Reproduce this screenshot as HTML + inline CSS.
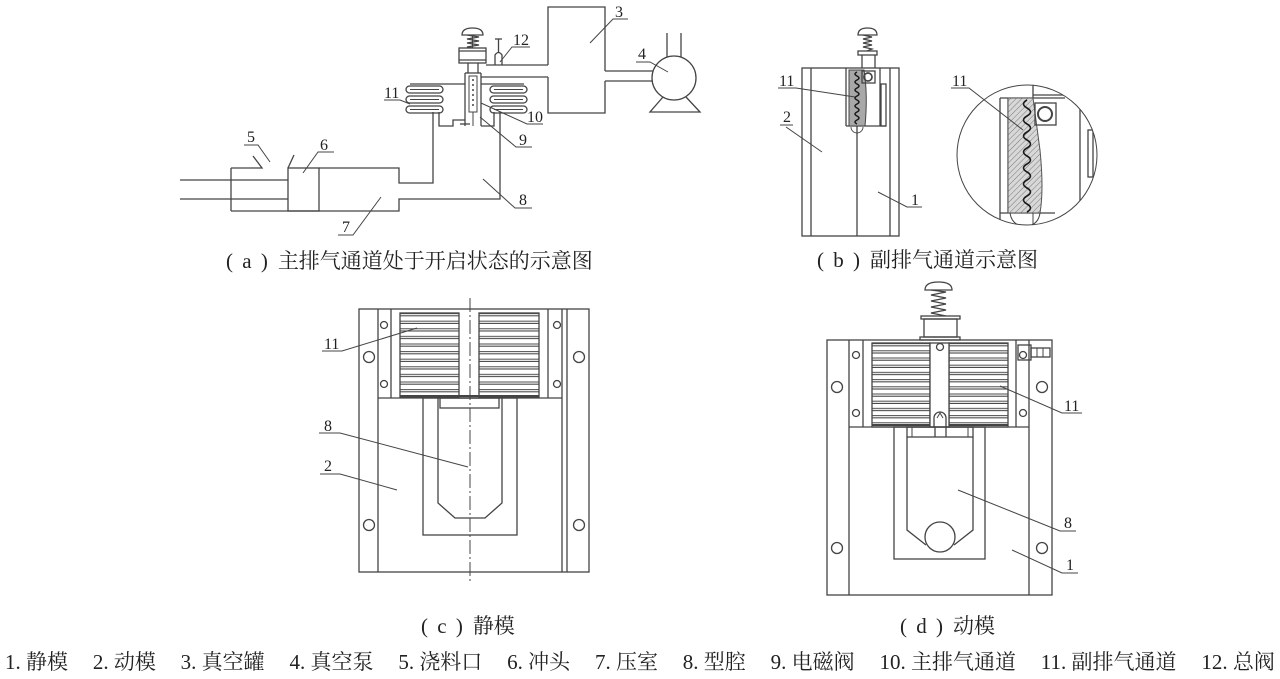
<!DOCTYPE html>
<html><head><meta charset="utf-8">
<style>
html,body{margin:0;padding:0;background:#fff;}
body{width:1280px;height:679px;position:relative;overflow:hidden;}
svg{position:absolute;left:0;top:0;}
.cap{position:absolute;font-family:"Liberation Serif","Noto Serif CJK SC",serif;font-size:21px;color:#222;white-space:nowrap;line-height:1;}
.cap .p{letter-spacing:2px;margin-right:8px;}
.legend{position:absolute;left:5px;width:1270px;top:652px;display:flex;justify-content:space-between;font-family:"Liberation Serif","Noto Serif CJK SC",serif;font-size:21px;color:#222;line-height:1;white-space:nowrap;}
</style></head><body>
<svg width="1280" height="679" viewBox="0 0 1280 679">
<defs>
<pattern id="stC" patternUnits="userSpaceOnUse" x="0" y="313" width="20" height="7.6">
<line x1="0" y1="0.6" x2="20" y2="0.6" stroke="#444" stroke-width="1"/>
<line x1="0" y1="2.8" x2="20" y2="2.8" stroke="#444" stroke-width="1"/>
</pattern>
<pattern id="stD" patternUnits="userSpaceOnUse" x="0" y="343" width="20" height="7.2">
<line x1="0" y1="0.6" x2="20" y2="0.6" stroke="#444" stroke-width="1"/>
<line x1="0" y1="2.8" x2="20" y2="2.8" stroke="#444" stroke-width="1"/>
</pattern>
<pattern id="hatch" patternUnits="userSpaceOnUse" width="4" height="4" patternTransform="rotate(45)">
<rect width="4" height="4" fill="#d8d8d8"/>
<line x1="0" y1="0" x2="0" y2="4" stroke="#777" stroke-width="1"/>
</pattern>
<clipPath id="detailClip"><circle cx="1027" cy="155" r="70"/></clipPath>
</defs>

<g fill="none" stroke="#444" stroke-width="1.3" stroke-linejoin="miter">
<!-- ===== (a) ===== -->
<line x1="180" y1="180" x2="288" y2="180"/>
<line x1="180" y1="199" x2="288" y2="199"/>
<line x1="231" y1="168" x2="231" y2="211"/>
<polyline points="231,168 262,168 253,156"/>
<polyline points="294,155 288,168"/>
<rect x="288" y="168" width="31" height="43"/>
<polyline points="319,168 399,168 399,183 433,183 433,112"/>
<polyline points="231,211 399,211 399,199 500,199 500,112"/>
<polyline points="439,112 439,126 453,126 453,120 465,120"/>
<polyline points="494,112 494,126 481,126"/>
<line x1="460" y1="124" x2="470" y2="124"/>
<!-- bellows -->
<line x1="410" y1="84" x2="465" y2="84"/>
<line x1="481" y1="84" x2="524" y2="84"/>
<rect x="406" y="86" width="37" height="7" rx="3.5"/>
<rect x="406" y="96" width="37" height="7" rx="3.5"/>
<rect x="406" y="106" width="37" height="7" rx="3.5"/>
<line x1="410" y1="89.5" x2="439" y2="89.5" stroke-width="0.9"/>
<line x1="410" y1="99.5" x2="439" y2="99.5" stroke-width="0.9"/>
<line x1="410" y1="109.5" x2="439" y2="109.5" stroke-width="0.9"/>
<rect x="490" y="86" width="37" height="7" rx="3.5"/>
<rect x="490" y="96" width="37" height="7" rx="3.5"/>
<rect x="490" y="106" width="37" height="7" rx="3.5"/>
<line x1="494" y1="89.5" x2="523" y2="89.5" stroke-width="0.9"/>
<line x1="494" y1="99.5" x2="523" y2="99.5" stroke-width="0.9"/>
<line x1="494" y1="109.5" x2="523" y2="109.5" stroke-width="0.9"/>
<!-- valve -->
<line x1="465" y1="73" x2="465" y2="126"/>
<line x1="481" y1="73" x2="481" y2="126"/>
<line x1="465" y1="73" x2="481" y2="73"/>
<line x1="468" y1="63" x2="468" y2="73"/>
<line x1="478" y1="63" x2="478" y2="73"/>
<rect x="469" y="76" width="8" height="36" stroke-width="1"/>
<g fill="#444" stroke="none">
<circle cx="473" cy="80" r="1"/><circle cx="473" cy="85" r="1"/><circle cx="473" cy="90" r="1"/><circle cx="473" cy="95" r="1"/><circle cx="473" cy="100" r="1"/><circle cx="473" cy="105" r="1"/>
</g>
<line x1="473" y1="112" x2="473" y2="126" stroke-width="1"/>
<rect x="459" y="48" width="27" height="15"/>
<line x1="459" y1="51" x2="486" y2="51"/>
<line x1="459" y1="60" x2="486" y2="60"/>
<polyline points="467,35 479,37 467,39 479,41 467,43 479,45 467,47 473,48"/>
<path d="M462,35 Q462,28 472.5,28 Q483,28 483,35 Z"/>
<line x1="472.5" y1="35" x2="472.5" y2="48"/>
<!-- pipes -->
<line x1="486" y1="65" x2="548" y2="65"/>
<line x1="481" y1="77" x2="548" y2="77"/>
<path d="M495,65 L495,55 Q498.5,50 502,55 L502,65"/>
<line x1="498.5" y1="39" x2="498.5" y2="52"/>
<line x1="495" y1="39" x2="502" y2="39"/>
<!-- tank -->
<path d="M548,65 L548,7 L605,7 L605,71 M605,81 L605,113 L548,113 L548,77"/>
<line x1="605" y1="71" x2="653" y2="71"/>
<line x1="605" y1="81" x2="652" y2="81"/>
<circle cx="674" cy="78" r="22"/>
<line x1="667" y1="33" x2="667" y2="57"/>
<line x1="681" y1="33" x2="681" y2="57"/>
<polyline points="663,97 650,112 700,112 686,97"/>

<!-- leaders (a) -->
<g stroke-width="1">
<polyline points="590,43 613,19 628,19"/>
<polyline points="668,72 650,62 636,62"/>
<polyline points="500,62 512,47 530,47"/>
<polyline points="384,100 400,100 410,104"/>
<polyline points="481,103 527,124 543,124"/>
<polyline points="480,117 516,147 532,147"/>
<polyline points="244,145 258,145 270,162"/>
<polyline points="334,152 318,152 303,173"/>
<polyline points="338,235 353,235 381,197"/>
<polyline points="532,208 515,208 483,179"/>
</g>

<!-- ===== (b) ===== -->
<path d="M858,35 Q858,28 867.5,28 Q877,28 877,35 Z"/>
<polyline points="863,35 872,37 863,39 872,41 863,43 872,45 863,47 872,49 867,51"/>
<rect x="858" y="51" width="19" height="4"/>
<line x1="862" y1="55" x2="862" y2="68"/>
<line x1="875" y1="55" x2="875" y2="68"/>
<rect x="802" y="68" width="97" height="168"/>
<line x1="811" y1="68" x2="811" y2="236"/>
<line x1="857" y1="126" x2="857" y2="236"/>
<line x1="890" y1="68" x2="890" y2="236"/>
<line x1="846" y1="68" x2="846" y2="126"/>
<line x1="846" y1="126" x2="886" y2="126"/>
<line x1="880" y1="68" x2="880" y2="126"/>
<rect x="881" y="84" width="5" height="42"/>
<path d="M849,70 L864,70 Q868,95 865,126 L849,126 Z" fill="#a8a8a8" stroke="#444" stroke-width="1"/>
<path stroke="#1a1a1a" stroke-width="1.5" d="M857,72 q-4,2 0,4 t0,4 t0,4 t0,4 t0,4 t0,4 t0,4 t0,4 t0,4 t0,4 t0,4 t0,4 t0,4"/>
<rect x="862" y="71" width="13" height="12"/>
<circle cx="868" cy="77" r="4" stroke-width="1.7"/>
<path d="M851,127 A6,6 0 0 0 863,127" stroke-width="0.9"/>
<g stroke-width="1">
<polyline points="778,88 796,88 855,97"/>
<polyline points="780,125 793,125"/>
<line x1="786" y1="127" x2="822" y2="152"/>
<polyline points="922,207 907,207 878,192"/>
</g>

<!-- detail circle -->
<circle cx="1027" cy="155" r="70" stroke-width="1"/>
<g clip-path="url(#detailClip)">
<line x1="1000" y1="98" x2="1065" y2="98"/>
<line x1="1033" y1="80" x2="1033" y2="98"/>
<line x1="1033" y1="95" x2="1072" y2="95"/>
<line x1="1000" y1="98" x2="1000" y2="230"/>
<line x1="1000" y1="213" x2="1055" y2="213"/>
<line x1="1008" y1="98" x2="1008" y2="213"/>
<line x1="1080" y1="103" x2="1080" y2="230"/>
<rect x="1088" y="130" width="5" height="47"/>
<path d="M1008,98 L1033,98 Q1036,120 1040,150 Q1044,190 1040,213 L1008,213 Z" fill="url(#hatch)" stroke="#555" stroke-width="1"/>
<path stroke="#1a1a1a" stroke-width="1.6" d="M1027,100 q-7,4 0,8 t0,8 t0,8 t0,8 t0,8 t0,8 t0,8 t0,8 t0,8 t0,8 t0,8 t0,8 t0,8 t0,8"/>
<rect x="1035" y="103" width="21" height="22"/>
<circle cx="1045" cy="114" r="7" stroke-width="2"/>
<path d="M1010,213 Q1012,226 1025,226 Q1038,226 1040,213" stroke-width="1"/>
<line x1="1033" y1="213" x2="1033" y2="230" stroke-width="1"/>
</g>
<polyline stroke-width="1" points="951,88 969,88 1023,130"/>

<!-- ===== (c) ===== -->
<rect x="359" y="309" width="230" height="263"/>
<line x1="378" y1="309" x2="378" y2="572"/>
<line x1="562" y1="309" x2="562" y2="572"/>
<line x1="567" y1="309" x2="567" y2="572"/>
<line x1="391" y1="309" x2="391" y2="398"/>
<line x1="548" y1="309" x2="548" y2="398"/>
<line x1="378" y1="398" x2="562" y2="398"/>
<rect x="400" y="313" width="59" height="84" fill="url(#stC)"/>
<rect x="479" y="313" width="60" height="84" fill="url(#stC)"/>
<line x1="400" y1="396" x2="539" y2="396" stroke-width="2"/>
<line x1="470" y1="298" x2="470" y2="584" stroke-width="1" stroke-dasharray="14,3,2,3"/>
<circle cx="384" cy="325" r="3.5"/><circle cx="384" cy="384" r="3.5"/>
<circle cx="557" cy="325" r="3.5"/><circle cx="557" cy="384" r="3.5"/>
<circle cx="369" cy="357" r="5.5"/><circle cx="369" cy="525" r="5.5"/>
<circle cx="579" cy="357" r="5.5"/><circle cx="579" cy="525" r="5.5"/>
<rect x="423" y="398" width="94" height="137"/>
<rect x="440" y="398" width="59" height="10"/>
<polyline points="438,398 438,503 455,518 485,518 502,503 502,398"/>
<g stroke-width="1">
<polyline points="322,351 342,351 417,328"/>
<polyline points="319,433 340,433 468,467"/>
<polyline points="320,474 340,474 397,490"/>
</g>

<!-- ===== (d) ===== -->
<path d="M925,290 Q925,282 938.5,282 Q952,282 952,290 Z"/>
<polyline points="931,290 946,292 931,295 946,298 931,301 946,304 931,307 946,310 931,313 946,316"/>
<rect x="921" y="316" width="39" height="3"/>
<rect x="924" y="319" width="33" height="18"/>
<rect x="920" y="337" width="40" height="3"/>
<rect x="827" y="340" width="225" height="255"/>
<line x1="849" y1="340" x2="849" y2="595"/>
<line x1="1029" y1="340" x2="1029" y2="595"/>
<line x1="863" y1="340" x2="863" y2="427"/>
<line x1="1016" y1="340" x2="1016" y2="427"/>
<line x1="849" y1="427" x2="1029" y2="427"/>
<rect x="872" y="343" width="58" height="84" fill="url(#stD)"/>
<rect x="949" y="343" width="59" height="84" fill="url(#stD)"/>
<line x1="872" y1="425" x2="1008" y2="425" stroke-width="2"/>
<rect x="930" y="343" width="19" height="84" fill="#fff"/>
<circle cx="940" cy="347" r="3.5"/>
<path d="M934,427 L934,418 A6,6 0 0 1 946,418 L946,427"/>
<path d="M937,418 L940,413 L943,418" stroke-width="1"/>
<rect x="1018" y="345" width="13" height="15"/>
<rect x="1031" y="348" width="19" height="9"/>
<line x1="1037" y1="348" x2="1037" y2="357" stroke-width="1"/>
<line x1="1043" y1="348" x2="1043" y2="357" stroke-width="1"/>
<circle cx="856" cy="355" r="3.5"/><circle cx="856" cy="413" r="3.5"/>
<circle cx="1023" cy="355" r="3.5"/><circle cx="1023" cy="413" r="3.5"/>
<circle cx="837" cy="387" r="5.5"/><circle cx="837" cy="548" r="5.5"/>
<circle cx="1042" cy="387" r="5.5"/><circle cx="1042" cy="548" r="5.5"/>
<rect x="894" y="427" width="91" height="132"/>
<rect x="907" y="427" width="66" height="10"/>
<line x1="912" y1="427" x2="912" y2="437" stroke-width="1"/>
<line x1="968" y1="427" x2="968" y2="437" stroke-width="1"/>
<line x1="935" y1="427" x2="935" y2="437"/>
<line x1="946" y1="427" x2="946" y2="437"/>
<polyline points="907,437 907,530 926,545"/>
<polyline points="973,437 973,530 954,545"/>
<circle cx="940" cy="537" r="15"/>
<g stroke-width="1">
<polyline points="1000,386 1062,413 1082,413"/>
<polyline points="958,490 1060,531 1076,531"/>
<polyline points="1012,550 1062,573 1078,573"/>
</g>
</g>

<!-- labels -->
<g font-family="Liberation Serif, serif" font-size="16" fill="#222">
<text x="615" y="17">3</text>
<text x="638" y="59">4</text>
<text x="513" y="45">12</text>
<text x="384" y="98">11</text>
<text x="527" y="122">10</text>
<text x="519" y="145">9</text>
<text x="247" y="142">5</text>
<text x="320" y="150">6</text>
<text x="342" y="232">7</text>
<text x="519" y="205">8</text>
<text x="779" y="86">11</text>
<text x="783" y="122">2</text>
<text x="911" y="205">1</text>
<text x="952" y="86">11</text>
<text x="324" y="349">11</text>
<text x="324" y="431">8</text>
<text x="324" y="471">2</text>
<text x="1064" y="411">11</text>
<text x="1064" y="528">8</text>
<text x="1066" y="570">1</text>
</g>
</svg>

<div class="cap" style="left:226px;top:251px;"><span class="p">(&nbsp;a&nbsp;)</span>主排气通道处于开启状态的示意图</div>
<div class="cap" style="left:817px;top:250px;"><span class="p">(&nbsp;b&nbsp;)</span>副排气通道示意图</div>
<div class="cap" style="left:421px;top:616px;"><span class="p">(&nbsp;c&nbsp;)</span>静模</div>
<div class="cap" style="left:900px;top:616px;"><span class="p">(&nbsp;d&nbsp;)</span>动模</div>

<div class="legend">
<span>1. 静模</span><span>2. 动模</span><span>3. 真空罐</span><span>4. 真空泵</span><span>5. 浇料口</span><span>6. 冲头</span><span>7. 压室</span><span>8. 型腔</span><span>9. 电磁阀</span><span>10. 主排气通道</span><span>11. 副排气通道</span><span>12. 总阀</span>
</div>
</body></html>
